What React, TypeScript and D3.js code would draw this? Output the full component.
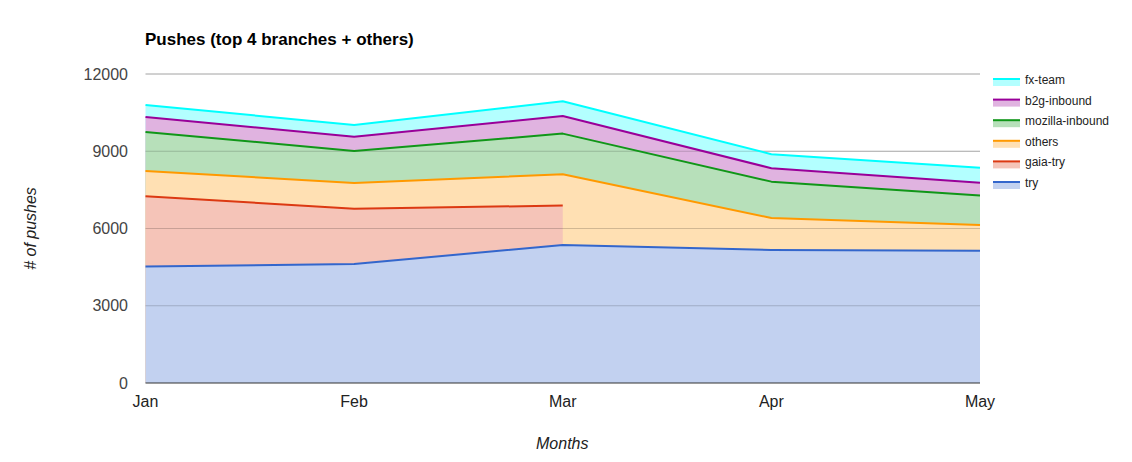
import React from 'react';
import * as d3 from 'd3';

const months = ['Jan', 'Feb', 'Mar', 'Apr', 'May'];

// stacked bottom -> top
const tryPushes = [4520, 4620, 5360, 5165, 5140];
const gaiaTry: (number | null)[] = [2730, 2150, 1530, null, null];
const others = [985, 995, 1215, 1245, 995];
const mozillaInbound = [1515, 1245, 1580, 1410, 1150];
const b2gInbound = [580, 555, 685, 520, 490];
const fxTeam = [465, 455, 570, 545, 580];

const yTicks = [0, 3000, 6000, 9000, 12000];

interface Series {
    name: string;
    color: string;
    values: (number | null)[];
}

const series: Series[] = [
    { name: 'try', color: '#3366cc', values: tryPushes },
    { name: 'gaia-try', color: '#dc3912', values: gaiaTry },
    { name: 'others', color: '#ff9900', values: others },
    { name: 'mozilla-inbound', color: '#109618', values: mozillaInbound },
    { name: 'b2g-inbound', color: '#990099', values: b2gInbound },
    { name: 'fx-team', color: '#00ffff', values: fxTeam },
];

const width = 1132;
const height = 462;
const left = 145.5;
const right = 980;
const top = 74;
const bottom = 383;
const font = 'Arial, "Liberation Sans", sans-serif';

// light fill = colour at 30% over white
const tint = (c: string) => d3.interpolateRgb('#ffffff', c)(0.3);

const App: React.FC = () => {
    const x = d3.scalePoint<string>().domain(months).range([left, right]);
    const y = d3.scaleLinear().domain([0, 12000]).range([bottom, top]);

    // cumulative tops; null where a series has no value
    const cum: (number | null)[][] = [];
    const running = months.map(() => 0);
    series.forEach(s => {
        cum.push(s.values.map((v, i) => {
            if (v === null) return null;
            running[i] += v;
            return running[i];
        }));
    });

    const area = d3.area<number | null>()
        .defined(d => d !== null)
        .x((_, i) => x(months[i]) as number)
        .y0(bottom)
        .y1(d => y(d as number));

    const line = d3.line<number | null>()
        .defined(d => d !== null)
        .x((_, i) => x(months[i]) as number)
        .y(d => y(d as number));

    const legend = [...series].reverse();

    return (
        <div style={{ position: 'absolute', left: 0, top: 0 }}>
            <svg width={width} height={height} style={{ display: 'block', background: '#fff' }}>
                <text x={145} y={45} fontFamily={font} fontSize={17} fontWeight="bold" fill="#000">
                    Pushes (top 4 branches + others)
                </text>

                {yTicks.slice(1).map(t => (
                    <line key={'g' + t} x1={left} x2={right} y1={y(t)} y2={y(t)} stroke="#cccccc" strokeWidth={1} />
                ))}

                {/* fills painted top series first, each down to zero */}
                {[...series.keys()].reverse().map(k => (
                    <path key={'a' + k} d={area(cum[k]) ?? ''} fill={tint(series[k].color)} />
                ))}

                {yTicks.slice(1).map(t => (
                    <line key={'o' + t} x1={left} x2={right} y1={y(t)} y2={y(t)} stroke="#000" strokeOpacity={0.18} strokeWidth={1} />
                ))}

                {series.map((s, k) => (
                    <path key={'l' + k} d={line(cum[k]) ?? ''} fill="none" stroke={s.color} strokeWidth={2} strokeLinejoin="round" />
                ))}

                <line x1={left} x2={right} y1={bottom} y2={bottom} stroke="#333333" strokeWidth={1} />

                {yTicks.map(t => (
                    <text key={'t' + t} x={128} y={y(t)} dy="0.35em" textAnchor="end" fontFamily={font} fontSize={16} fill="#444">
                        {t}
                    </text>
                ))}

                {months.map(m => (
                    <text key={m} x={x(m)} y={407} textAnchor="middle" fontFamily={font} fontSize={16} fill="#222">
                        {m}
                    </text>
                ))}

                <text x={(left + right) / 2 - 0.5} y={449} textAnchor="middle" fontFamily={font} fontSize={16} fontStyle="italic" fill="#222">
                    Months
                </text>
                <text transform={`translate(36,${(top + bottom) / 2}) rotate(-90)`} textAnchor="middle" fontFamily={font} fontSize={16} fontStyle="italic" fill="#222">
                    # of pushes
                </text>

                {legend.map((s, i) => {
                    const cy = 79 + i * 20.6;
                    return (
                        <g key={s.name} transform={`translate(993,${cy})`}>
                            <rect x={0} y={0} width={27} height={7} fill={tint(s.color)} />
                            <rect x={0} y={-1} width={27} height={2} fill={s.color} />
                            <text x={32} y={5} fontFamily={font} fontSize={12} fill="#222">{s.name}</text>
                        </g>
                    );
                })}
            </svg>
        </div>
    );
};

export default App;
